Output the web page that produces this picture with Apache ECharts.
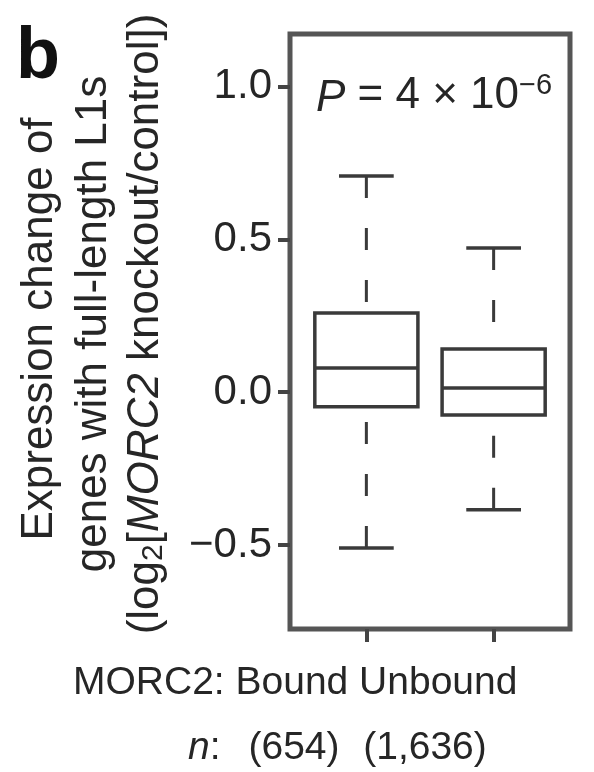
<!DOCTYPE html>
<html><head><meta charset="utf-8">
<script src="https://cdn.jsdelivr.net/npm/echarts@6/dist/echarts.min.js"></script>
<style>html,body{margin:0;padding:0;background:#fff}#c{width:594px;height:772px}</style>
</head><body><div id="c"></div>
<script>
// ---- data ----
const categories = ['Bound', 'Unbound'];
const groupLabel = 'MORC2:';
const counts = ['654', '1,636'];
const whiskerLow = [-0.51, -0.385];
const q1 = [-0.048, -0.075];
const median = [0.079, 0.014];
const q3 = [0.259, 0.141];
const whiskerHigh = [0.707, 0.472];
const yTicks = [-0.5, 0, 0.5, 1.0];
const yTickLabels = ['\u22120.5', '0.0', '0.5', '1.0'];
const pValueMantissa = '4';
const pValueExponent = '\u22126';

// ---- drawing ----
const FONT = 'Liberation Sans, Arial, Helvetica, sans-serif';
const INK = '#262626';
const LINE = '#3a3a3a';
const BOX_W = 0.81, CAP_W = 0.43;

const boxData = categories.map((c, i) => [i + 1, whiskerLow[i], q1[i], median[i], q3[i], whiskerHigh[i]]);

function renderItem(params, api) {
  const x = api.value(0);
  const lo = api.value(1), a = api.value(2), m = api.value(3), b = api.value(4), hi = api.value(5);
  const pLT = api.coord([x - BOX_W / 2, b]);
  const pRB = api.coord([x + BOX_W / 2, a]);
  const pm = api.coord([x, m]);
  const pHi = api.coord([x, hi]);
  const pLo = api.coord([x, lo]);
  const cL = api.coord([x - CAP_W / 2, hi])[0];
  const cR = api.coord([x + CAP_W / 2, hi])[0];
  const solid = { stroke: LINE, lineWidth: 3.5, fill: null };
  const dashed = { stroke: LINE, lineWidth: 3, lineDash: [22, 30], fill: null };
  return {
    type: 'group',
    children: [
      { type: 'line', shape: { x1: pHi[0], y1: pHi[1], x2: pHi[0], y2: pLT[1] }, style: dashed },
      { type: 'line', shape: { x1: pLo[0], y1: pLo[1], x2: pLo[0], y2: pRB[1] }, style: dashed },
      { type: 'line', shape: { x1: cL, y1: pHi[1], x2: cR, y2: pHi[1] }, style: solid },
      { type: 'line', shape: { x1: cL, y1: pLo[1], x2: cR, y2: pLo[1] }, style: solid },
      { type: 'rect', shape: { x: pLT[0], y: pLT[1], width: pRB[0] - pLT[0], height: pRB[1] - pLT[1] },
        style: { fill: 'rgba(255,255,255,0)', stroke: LINE, lineWidth: 3.5 } },
      { type: 'line', shape: { x1: pLT[0], y1: pm[1], x2: pRB[0], y2: pm[1] }, style: solid }
    ]
  };
}

function txt(x, y, text, opts) {
  return {
    type: 'text', x: x, y: y,
    style: Object.assign({
      text: text, fill: INK, fontSize: 39, fontFamily: FONT,
      align: 'left', verticalAlign: 'middle', textAlign: 'left', textVerticalAlign: 'middle'
    }, opts || {})
  };
}

const yTitleRich = {
  i: { fontStyle: 'italic', fontSize: 44, fontFamily: FONT, fill: INK },
  sub: { fontSize: 30, fontFamily: FONT, fill: INK, padding: [16, 0, 0, 0] }
};
function rot(x, y, text) {
  const t = txt(x, y, text, { fontSize: 44, align: 'center', textAlign: 'center', rich: yTitleRich });
  t.rotation = Math.PI / 2;
  return t;
}

const chart = echarts.init(document.getElementById('c'), null, { renderer: 'canvas' });
chart.setOption({
  animation: false,
  backgroundColor: '#fff',
  grid: { left: 290, right: 24, top: 34, bottom: 143, show: true, borderColor: '#555', borderWidth: 5, backgroundColor: 'transparent' },
  xAxis: {
    type: 'value', min: 0.4, max: 2.6,
    axisLine: { show: false, onZero: false },
    splitLine: { show: false },
    axisTick: { show: true, customValues: [1, 2], length: 13, inside: false, lineStyle: { color: '#444', width: 4 } },
    axisLabel: { show: false }
  },
  yAxis: {
    type: 'value', min: -0.775, max: 1.172,
    axisLine: { show: false, onZero: false },
    splitLine: { show: false },
    axisTick: { show: true, customValues: yTicks, length: 12, inside: false, lineStyle: { color: '#444', width: 4 } },
    axisLabel: {
      show: true, customValues: yTicks, margin: 18, fontSize: 42, fontFamily: FONT, color: INK,
      formatter: function (v) {
        const k = yTicks.findIndex(t => Math.abs(t - v) < 1e-9);
        return k >= 0 ? yTickLabels[k] : '';
      }
    }
  },
  series: [{
    type: 'custom',
    renderItem: renderItem,
    data: boxData,
    encode: { x: 0, y: [1, 2, 3, 4, 5] },
    clip: false
  }],
  graphic: [
    txt(16, 58, 'b', { fontSize: 72, fontWeight: 'bold', fill: '#111' }),
    rot(40, 329, 'Expression change of'),
    rot(94, 324, 'genes with full-length L1s'),
    rot(146, 324, '(log{sub|2}[{i|MORC2} knockout/control])'),
    txt(316, 96, '{i|P} = ' + pValueMantissa + ' \u00d7 10{sup|' + pValueExponent + '}', {
      fontSize: 44,
      rich: {
        i: { fontStyle: 'italic', fontSize: 44, fontFamily: FONT, fill: INK, verticalAlign: 'bottom', lineHeight: 50 },
        sup: { fontSize: 29, fontFamily: FONT, fill: INK, verticalAlign: 'top', lineHeight: 30 }
      },
      lineHeight: 50
    }),
    txt(73, 683, groupLabel + ' ' + categories[0] + ' ' + categories[1]),
    txt(188, 748, '{i|n}:', { rich: { i: { fontStyle: 'italic', fontSize: 39, fontFamily: FONT, fill: INK } } }),
    txt(294, 748, '(' + counts[0] + ')', { align: 'center', textAlign: 'center' }),
    txt(425, 748, '(' + counts[1] + ')', { align: 'center', textAlign: 'center' })
  ]
});
</script>
</body></html>
